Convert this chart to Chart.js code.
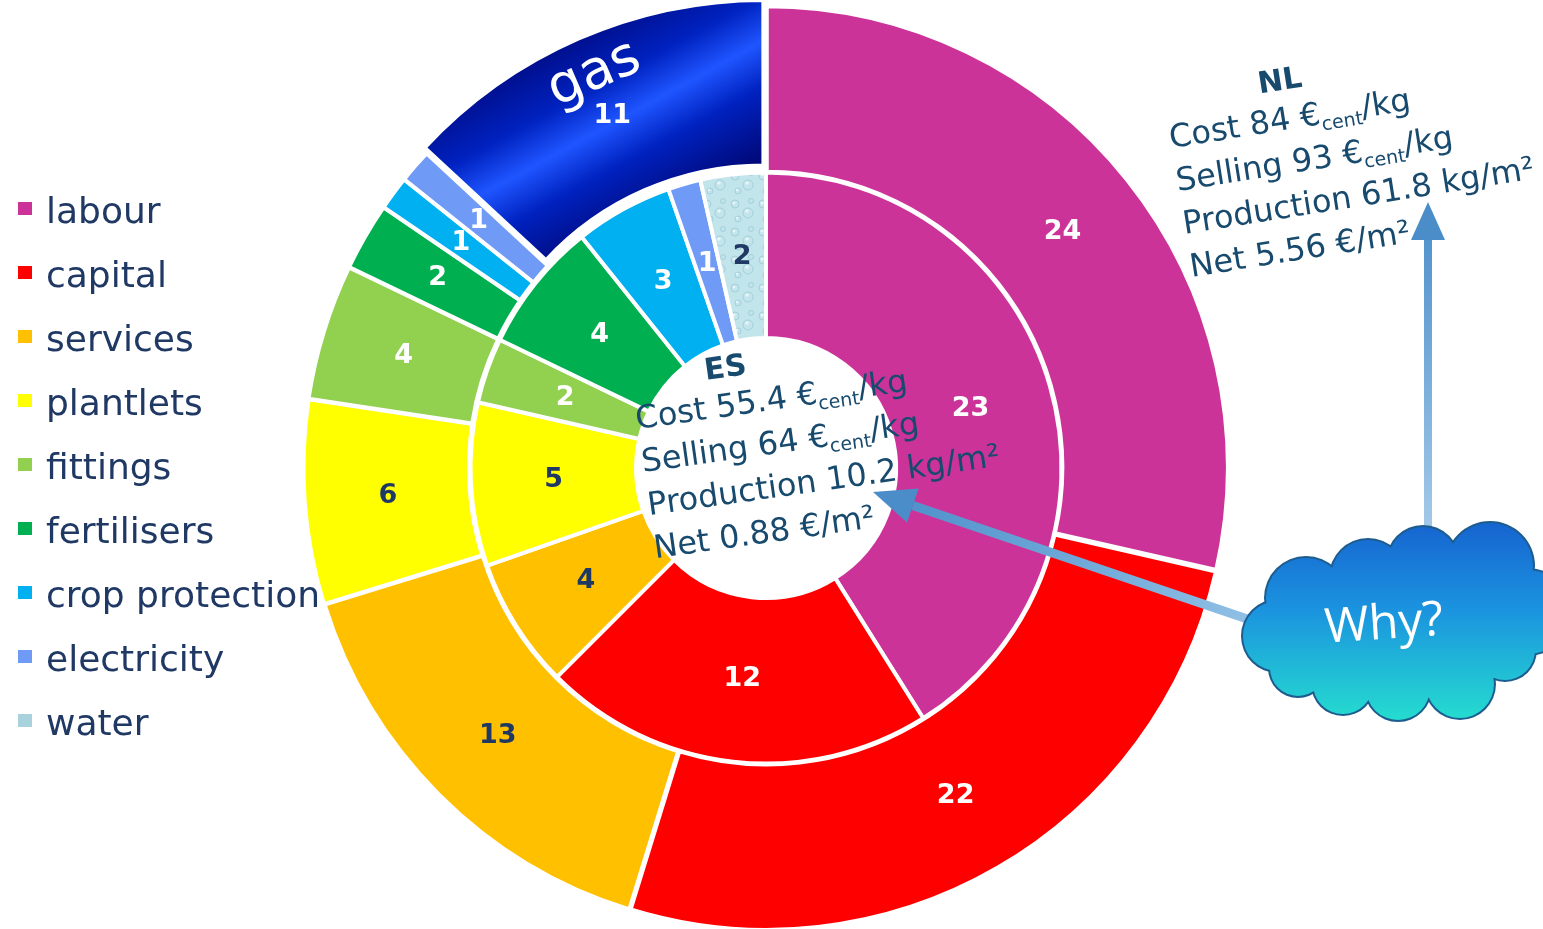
<!DOCTYPE html>
<html>
<head>
<meta charset="utf-8">
<script src="https://cdn.jsdelivr.net/npm/chart.js@4.4.0/dist/chart.umd.min.js"></script>
<style>
  html, body { margin: 0; padding: 0; background: #ffffff; overflow: hidden; }
  canvas { display: block; }
</style>
</head>
<body>
<canvas id="costChart" width="1543" height="929"></canvas>
<script>
// Cost breakdown of tomato production, €cent per kg
const categories = ['labour', 'capital', 'services', 'plantlets', 'fittings', 'fertilisers',
                    'crop protection', 'electricity', 'water', 'gas'];
const nlCosts = [24, 22, 13, 6, 4, 2, 1, 1, 0, 11];   // outer ring (NL)
const esCosts = [23, 12, 4, 5, 2, 4, 3, 1, 2, 0];     // inner ring (ES)
const legendCategories = categories.slice(0, 9);     // gas is named on its slice

// Summary figures: cost, selling price (€cent/kg), production (kg/m²), net (€/m²)
const esSummary = [55.4, 64, 10.2, 0.88];
const nlSummary = [84, 93, 61.8, 5.56];

const palette = ['#cc3399', '#ff0000', '#ffc000', '#ffff00', '#92d050', '#00b050',
                 '#00b0f0', '#6f9af5', '#bfe2e9', '#0a1fa8'];
const darkLabelOn = ['services', 'plantlets', 'water'];
const textNavy = '#1f3864';
const textTeal = '#184a6e';
const FONT = '"DejaVu Sans", Verdana, sans-serif';

function summaryLines(s) {
  return [
    [{t: 'Cost ' + s[0] + ' €'}, {t: 'cent', sub: true}, {t: '/kg'}],
    [{t: 'Selling ' + s[1] + ' €'}, {t: 'cent', sub: true}, {t: '/kg'}],
    [{t: 'Production ' + s[2] + ' kg/m²'}],
    [{t: 'Net ' + s[3].toFixed(2) + ' €/m²'}]
  ];
}

// pale textured fill for the water slice
function waterPattern() {
  const c = document.createElement('canvas');
  c.width = 28; c.height = 28;
  const g = c.getContext('2d');
  g.fillStyle = '#c2e4eb';
  g.fillRect(0, 0, 28, 28);
  g.strokeStyle = 'rgba(150,200,212,0.7)';
  g.lineWidth = 1;
  [[7, 8, 4], [20, 17, 5], [10, 23, 3], [23, 5, 2.5]].forEach(([x, y, r]) => {
    g.beginPath(); g.arc(x, y, r, 0, Math.PI * 2); g.stroke();
  });
  g.fillStyle = 'rgba(255,255,255,0.6)';
  [[6, 7, 1.5], [19, 15, 1.8], [9, 22, 1.2]].forEach(([x, y, r]) => {
    g.beginPath(); g.arc(x, y, r, 0, Math.PI * 2); g.fill();
  });
  return g.createPattern(c, 'repeat');
}
const waterFill = waterPattern();

function gasGradient(chart) {
  const a = chart.chartArea;
  if (!a) return palette[9];
  const cx = (a.left + a.right) / 2, cy = (a.top + a.bottom) / 2;
  const g = chart.ctx.createLinearGradient(cx - 214, cy - 419, cx - 118, cy - 243);
  g.addColorStop(0, '#000c86');
  g.addColorStop(0.3, '#0022c0');
  g.addColorStop(0.5, '#1f55ff');
  g.addColorStop(0.7, '#0022c0');
  g.addColorStop(1, '#000a7c');
  return g;
}

function sliceFill(ctx) {
  const name = categories[ctx.dataIndex];
  if (name === 'gas') return gasGradient(ctx.chart);
  if (name === 'water') return waterFill;
  return palette[ctx.dataIndex];
}

function drawRuns(ctx, runs, x, y, size, bold) {
  let cx = x;
  runs.forEach(r => {
    let s = size, dy = 0;
    if (r.sub) { s = Math.round(size * 0.58); dy = size * 0.2; }
    ctx.font = (bold ? 'bold ' : '') + s + 'px ' + FONT;
    ctx.fillText(r.t, cx, y + dy);
    cx += ctx.measureText(r.t).width;
  });
}

function drawSummary(ctx, title, lines, x, y, angleDeg, titleDx, titleDy) {
  ctx.save();
  ctx.translate(x, y);
  ctx.rotate(angleDeg * Math.PI / 180);
  ctx.fillStyle = textTeal;
  ctx.textAlign = 'left';
  ctx.textBaseline = 'alphabetic';
  ctx.font = 'bold 30px ' + FONT;
  ctx.fillText(title, titleDx, titleDy);
  lines.forEach((runs, i) => drawRuns(ctx, runs, 0, i * 43.5, 32, false));
  ctx.restore();
}

function drawArrow(ctx, x0, y0, x1, y1, width, headLen, headHalf, cStart, cEnd) {
  const ang = Math.atan2(y1 - y0, x1 - x0);
  const bx = x1 - Math.cos(ang) * headLen, by = y1 - Math.sin(ang) * headLen;
  const grad = ctx.createLinearGradient(x0, y0, x1, y1);
  grad.addColorStop(0, cStart);
  grad.addColorStop(1, cEnd);
  ctx.save();
  ctx.strokeStyle = grad;
  ctx.lineWidth = width;
  ctx.beginPath(); ctx.moveTo(x0, y0); ctx.lineTo(bx, by); ctx.stroke();
  ctx.fillStyle = cEnd;
  ctx.beginPath();
  ctx.moveTo(x1, y1);
  ctx.lineTo(bx + Math.sin(ang) * headHalf, by - Math.cos(ang) * headHalf);
  ctx.lineTo(bx - Math.sin(ang) * headHalf, by + Math.cos(ang) * headHalf);
  ctx.closePath(); ctx.fill();
  ctx.restore();
}

function cloudPath(ctx, puffs, grow) {
  ctx.beginPath();
  puffs.forEach(([x, y, r]) => { ctx.moveTo(x + r + grow, y); ctx.arc(x, y, r + grow, 0, Math.PI * 2); });
}

function drawCloud(ctx) {
  const puffs = [
    [1278, 636, 35], [1306, 598, 40], [1368, 577, 37], [1423, 562, 35], [1490, 566, 43],
    [1528, 612, 42], [1505, 650, 30], [1460, 684, 34], [1398, 688, 32], [1343, 684, 30],
    [1298, 668, 28], [1400, 625, 78], [1460, 620, 66], [1330, 640, 40]
  ];
  const grad = ctx.createLinearGradient(0, 522, 0, 720);
  grad.addColorStop(0, '#1664d0');
  grad.addColorStop(0.45, '#1b94df');
  grad.addColorStop(1, '#25dccf');
  ctx.save();
  // outline: the same puffs slightly enlarged, then the gradient body on top
  ctx.fillStyle = '#1d5c8e';
  cloudPath(ctx, puffs, 2);
  ctx.fill();
  ctx.fillStyle = grad;
  cloudPath(ctx, puffs, 0);
  ctx.fill();
  ctx.fillStyle = '#ffffff';
  ctx.font = '48px "Open Sans", sans-serif';
  ctx.textAlign = 'center';
  ctx.textBaseline = 'middle';
  ctx.translate(1384, 625);
  ctx.rotate(-4 * Math.PI / 180);
  ctx.fillText('Why?', 0, 0);
  ctx.restore();
}

const sliceLabels = {
  id: 'sliceLabels',
  afterDatasetsDraw(chart) {
    const ctx = chart.ctx;
    ctx.save();
    ctx.textAlign = 'center';
    ctx.textBaseline = 'middle';
    chart.data.datasets.forEach((ds, di) => {
      const meta = chart.getDatasetMeta(di);
      meta.data.forEach((arc, j) => {
        const v = ds.data[j];
        if (!v) return;
        const p = arc.getProps(['x', 'y', 'startAngle', 'endAngle', 'innerRadius', 'outerRadius'], true);
        const mid = (p.startAngle + p.endAngle) / 2;
        const off = (arc.options.offset || 0) / 4;
        const r = (p.innerRadius + p.outerRadius) / 2 + off;
        const x = p.x + Math.cos(mid) * r, y = p.y + Math.sin(mid) * r;
        ctx.fillStyle = darkLabelOn.includes(categories[j]) ? textNavy : '#ffffff';
        ctx.font = 'bold 27px ' + FONT;
        ctx.fillText(String(v), x, y);
        if (categories[j] === 'gas') {
          const rg = p.outerRadius - 38 + off;
          ctx.save();
          ctx.translate(p.x + Math.cos(mid) * rg, p.y + Math.sin(mid) * rg);
          ctx.rotate(mid + Math.PI / 2);
          ctx.font = '54px ' + FONT;
          ctx.fillText('gas', 0, 0);
          ctx.restore();
        }
      });
    });
    ctx.restore();
  }
};

const annotations = {
  id: 'annotations',
  afterDraw(chart) {
    const ctx = chart.ctx;
    // legend
    ctx.save();
    ctx.textAlign = 'left';
    ctx.textBaseline = 'alphabetic';
    legendCategories.forEach((name, i) => {
      const y = 223 + i * 64;
      const idx = categories.indexOf(name);
      ctx.fillStyle = name === 'water' ? '#a8d3dd' : palette[idx];
      ctx.fillRect(18, y - 21, 14, 13);
      ctx.fillStyle = textNavy;
      ctx.font = '36px ' + FONT;
      ctx.fillText(name, 46, y);
    });
    ctx.restore();

    drawSummary(ctx, 'ES', summaryLines(esSummary), 637, 429, -8, 75, -39);
    drawSummary(ctx, 'NL', summaryLines(nlSummary), 1171, 148, -9, 96, -40);

    drawArrow(ctx, 1428, 540, 1428, 202, 8, 38, 17, '#a6cbe9', '#4a8dc9');
    drawArrow(ctx, 1268, 626, 873, 492, 9, 42, 18, '#93c2e6', '#4a8dc9');
    drawCloud(ctx);
  }
};

new Chart(document.getElementById('costChart'), {
  type: 'doughnut',
  data: {
    labels: categories,
    datasets: [
      {
        label: 'NL',
        data: nlCosts,
        backgroundColor: sliceFill,
        borderColor: '#ffffff',
        borderWidth: 4,
        offset: categories.map(c => (c === 'gas' ? 24 : 4))
      },
      {
        label: 'ES',
        data: esCosts,
        backgroundColor: sliceFill,
        borderColor: '#ffffff',
        borderWidth: 4
      }
    ]
  },
  options: {
    responsive: false,
    animation: false,
    radius: 461,
    cutout: '28.2%',
    layout: { padding: { left: 305, right: 316, top: 8, bottom: 1 } },
    plugins: {
      legend: { display: false },
      tooltip: { enabled: false }
    }
  },
  plugins: [sliceLabels, annotations]
});
</script>
</body>
</html>
